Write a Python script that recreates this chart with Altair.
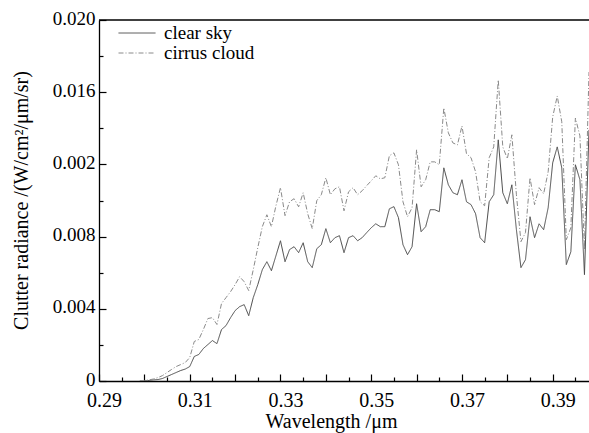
import altair as alt
import pandas as pd

# ---- data ----
wavelength = [round(0.299 + 0.001 * i, 3) for i in range(100)]  # 0.299 ... 0.398 µm

clear_sky = [
    0.0,
    0.0, 0.00003, 0.00006, 0.00008, 0.00014, 0.00025, 0.00036, 0.00047, 0.00058, 0.00066,
    0.00080, 0.00136, 0.00147, 0.00180, 0.00202, 0.00224, 0.00207, 0.00285, 0.00307, 0.00351,
    0.00390, 0.00412, 0.00423, 0.00362, 0.00462, 0.00534, 0.00617, 0.00661, 0.00611, 0.00694,
    0.00777, 0.00661, 0.00728, 0.00744, 0.00711, 0.00766, 0.00661, 0.00628, 0.00733, 0.00755,
    0.00844, 0.00766, 0.00794, 0.00805, 0.00711, 0.00794, 0.00805, 0.00777, 0.00794, 0.00822,
    0.00849, 0.00871, 0.00855, 0.00855, 0.00954, 0.00966, 0.00905, 0.00755, 0.00700, 0.00744,
    0.00982, 0.00827, 0.00855, 0.00949, 0.00949, 0.00938, 0.01181, 0.01087, 0.01043, 0.01032,
    0.01115, 0.00993, 0.00977, 0.00927, 0.00794, 0.00766, 0.00993, 0.01032, 0.01336, 0.01043,
    0.00982, 0.01087, 0.00838, 0.00628, 0.00672, 0.00910, 0.00794, 0.00871, 0.00838, 0.00960,
    0.01209, 0.01297, 0.01181, 0.00645, 0.00716, 0.01198, 0.01115, 0.00589, 0.01391,
]

cirrus_cloud = [
    0.0,
    0.00003, 0.00006, 0.00011, 0.00019, 0.00030, 0.00047, 0.00064, 0.00080, 0.00091, 0.00102,
    0.00130, 0.00219, 0.00230, 0.00285, 0.00346, 0.00351, 0.00313, 0.00429, 0.00462, 0.00495,
    0.00534, 0.00578, 0.00550, 0.00501, 0.00617, 0.00739, 0.00855, 0.00921, 0.00855, 0.00971,
    0.01071, 0.00916, 0.00993, 0.01010, 0.00965, 0.01043, 0.00927, 0.00844, 0.00999, 0.01032,
    0.01126, 0.01032, 0.01065, 0.01076, 0.00943, 0.01048, 0.01071, 0.01032, 0.01054, 0.01082,
    0.01109, 0.01137, 0.01120, 0.01126, 0.01248, 0.01264, 0.01198, 0.00993, 0.00910, 0.00960,
    0.01281, 0.01076, 0.01115, 0.01214, 0.01214, 0.01198, 0.01513, 0.01375, 0.01319, 0.01308,
    0.01413, 0.01259, 0.01237, 0.01159, 0.00993, 0.00971, 0.01237, 0.01297, 0.01668, 0.01297,
    0.01231, 0.01364, 0.01032, 0.00772, 0.00822, 0.01126, 0.00977, 0.01071, 0.01037, 0.01159,
    0.01463, 0.01579, 0.01436, 0.00783, 0.00849, 0.01457, 0.01358, 0.00728, 0.01712,
]

series_names = ["clear sky", "cirrus cloud"]
x_label_values = [0.29, 0.31, 0.33, 0.35, 0.37, 0.39]
x_major_ticks = [0.29, 0.30, 0.31, 0.32, 0.33, 0.34, 0.35, 0.36, 0.37, 0.38, 0.39]
x_minor_ticks = [0.295, 0.305, 0.315, 0.325, 0.335, 0.345, 0.355, 0.365, 0.375, 0.385, 0.395]
y_label_values = [0, 0.004, 0.008, 0.012, 0.016, 0.020]
y_minor_ticks = [0.002, 0.006, 0.010, 0.014, 0.018]
frame_top = [0.020]

df = pd.DataFrame({
    "wavelength": wavelength * 2,
    "value": clear_sky + cirrus_cloud,
    "series": [series_names[0]] * len(wavelength) + [series_names[1]] * len(wavelength),
})
top_df = pd.DataFrame({"y": frame_top})

FONT = "Liberation Serif"
W, H = 490, 361

xscale = alt.Scale(domain=[0.29, 0.398], nice=False, zero=False)
yscale = alt.Scale(domain=[0, 0.020], nice=False, zero=True)

legend = alt.Legend(
    title=None, orient="none", legendX=19, legendY=3, padding=0,
    symbolType="stroke", symbolSize=1369, symbolStrokeWidth=1,
    clipHeight=20, rowPadding=0, labelFont=FONT, labelFontSize=19,
    labelColor="black", labelOffset=8,
)

lines = alt.Chart(df).mark_line(strokeWidth=1, clip=True).encode(
    x=alt.X("wavelength:Q", scale=xscale, axis=alt.Axis(
        orient="bottom", values=x_label_values, format=".2f", ticks=False, grid=False,
        domainColor="black", domainWidth=1.3, labelFont=FONT, labelFontSize=20,
        labelColor="black", labelPadding=9, labelOffset=5, labelFlush=False,
        title="Wavelength /μm", titleFont=FONT, titleFontSize=20, titleFontWeight="normal",
        titleColor="black", titleX=232, titleY=46, titleAlign="center",
        titleBaseline="alphabetic")),
    y=alt.Y("value:Q", scale=yscale, axis=alt.Axis(
        orient="left", values=y_label_values, ticks=False, grid=False,
        labelExpr="datum.value == 0 ? '0' : (abs(datum.value - 0.012) < 1e-9 ? '0.002' : format(datum.value, '.3f'))",
        domainColor="black", domainWidth=1.3, labelFont=FONT, labelFontSize=19,
        labelColor="black", labelPadding=4, labelOffset=-2, labelFlush=False,
        title="Clutter radiance /(W/cm²/μm/sr)", titleFont=FONT, titleFontSize=20,
        titleFontWeight="normal", titleColor="black", titleX=-78, titleY=180,
        titleAlign="center", titleBaseline="middle")),
    color=alt.Color("series:N", scale=alt.Scale(domain=series_names, range=["#4a4a4a", "#8a8a8a"]), legend=legend),
    strokeDash=alt.StrokeDash("series:N", scale=alt.Scale(domain=series_names, range=[[1, 0], [5, 2, 1, 2]]), legend=legend),
)

major_ticks = alt.Chart(df).mark_line(opacity=0).encode(
    x=alt.X("wavelength:Q", scale=xscale, axis=alt.Axis(
        orient="top", offset=-H, values=x_major_ticks, labels=False, domain=False,
        grid=False, ticks=True, tickSize=7, tickColor="black", tickWidth=1.2, title=None)),
    y=alt.Y("value:Q", scale=yscale, axis=alt.Axis(
        orient="right", offset=-W, values=y_label_values, labels=False, domain=False,
        grid=False, ticks=True, tickSize=7, tickColor="black", tickWidth=1.2, title=None)),
    detail="series:N",
)

minor_ticks = alt.Chart(df).mark_line(opacity=0).encode(
    x=alt.X("wavelength:Q", scale=xscale, axis=alt.Axis(
        orient="top", offset=-H, values=x_minor_ticks, labels=False, domain=False,
        grid=False, ticks=True, tickSize=4, tickColor="black", tickWidth=1.2, title=None)),
    y=alt.Y("value:Q", scale=yscale, axis=alt.Axis(
        orient="right", offset=-W, values=y_minor_ticks, labels=False, domain=False,
        grid=False, ticks=True, tickSize=4, tickColor="black", tickWidth=1.2, title=None)),
    detail="series:N",
)

top_line = alt.Chart(top_df).mark_rule(color="black", strokeWidth=1.3).encode(
    y=alt.Y("y:Q", scale=yscale, axis=None),
)

chart = alt.layer(lines, major_ticks, minor_ticks, top_line).resolve_axis(
    x="independent", y="independent"
).properties(
    width=W, height=H,
    autosize=alt.AutoSizeParams(type="none"),
    padding={"left": 99, "top": 20, "right": 0, "bottom": 52},
    background="white",
).configure_view(stroke=None)

chart.save("out.html", embed_options={"renderer": "svg", "actions": False})
